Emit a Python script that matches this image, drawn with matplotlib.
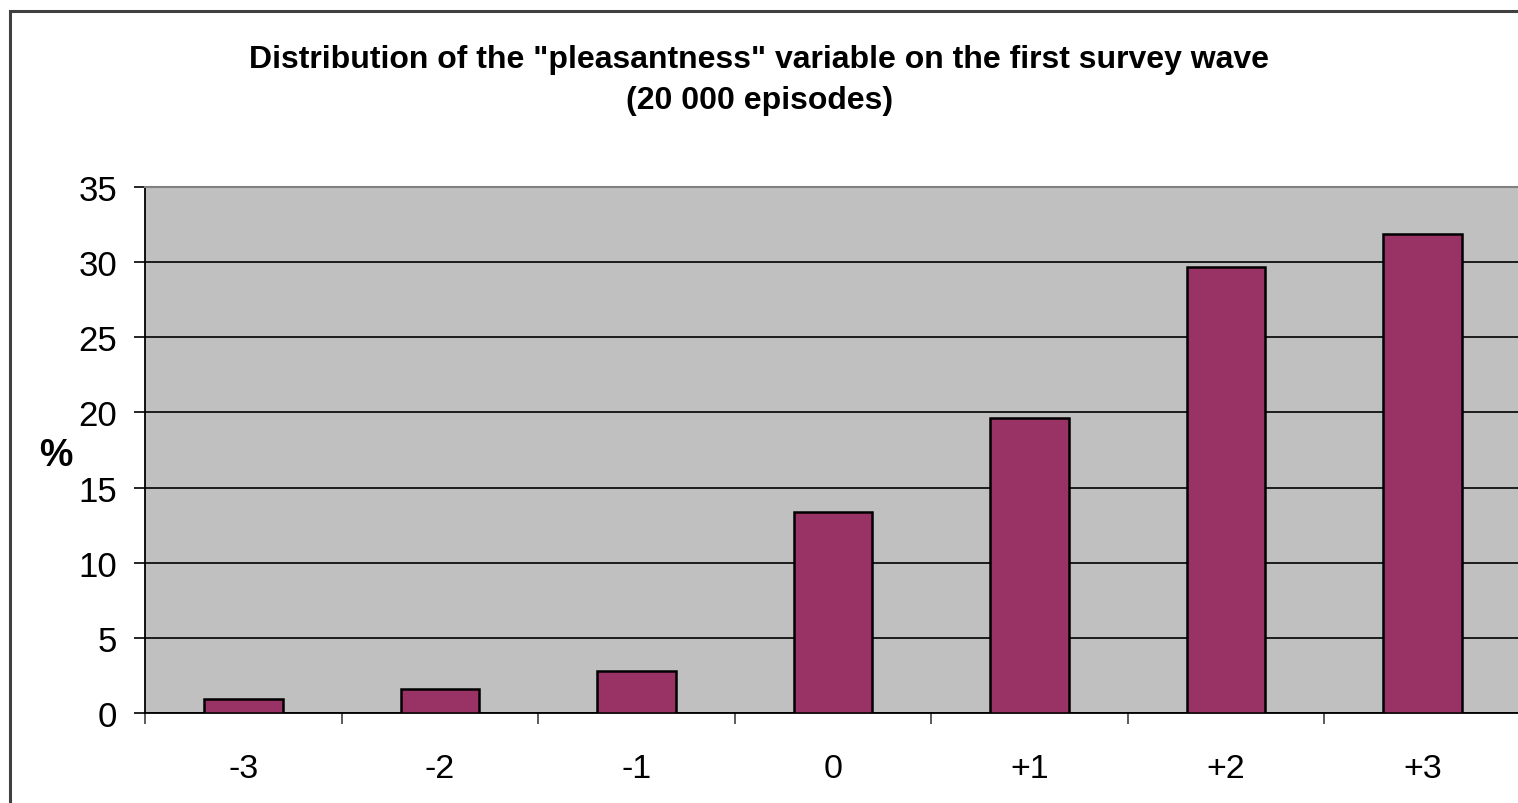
import matplotlib
matplotlib.use("Agg")
import matplotlib.pyplot as plt
from matplotlib.patches import Rectangle
import numpy as np

plt.rcParams['font.family'] = ['Liberation Sans', 'DejaVu Sans']

# data
categories = ["-3", "-2", "-1", "0", "+1", "+2", "+3"]
percent = [0.9, 1.6, 2.8, 13.4, 19.6, 29.7, 31.9]
yticks = [0, 5, 10, 15, 20, 25, 30, 35]

W, H = 1518, 804
fig = plt.figure(figsize=(W / 100, H / 100), dpi=100)
fig.patch.set_facecolor("white")

# chart area frame (runs off the right and bottom edge)
fig.patches.append(Rectangle((10 / W, -0.05), 1.2, 1 - 12 / H + 0.05,
                             transform=fig.transFigure, fill=False,
                             edgecolor="#404040", linewidth=2.2))

ax = fig.add_axes([145 / W, 1 - 714 / H, (1521 - 145) / W, (714 - 188) / H])
ax.set_facecolor("#C0C0C0")

x = np.arange(len(categories))
ax.bar(x, percent, width=0.4, color="#993366", edgecolor="black", linewidth=1.8, zorder=3)

ax.set_xlim(-0.5, len(categories) - 0.5)
ax.set_ylim(0, 35)
ax.set_yticks(yticks)
ax.set_yticklabels([str(v) for v in yticks], fontsize=25)
ax.yaxis.grid(True, color="black", linewidth=1.2, zorder=0)
ax.set_axisbelow(True)

ax.set_xticks(x)
ax.set_xticklabels(categories, fontsize=24.5)
ax.set_xticks(np.arange(-0.5, len(categories)), minor=True)
ax.tick_params(axis="x", which="major", length=0, pad=29)
ax.tick_params(axis="x", which="minor", length=8, width=1.2, color="#404040")
ax.tick_params(axis="y", which="major", length=8, width=1.2, pad=12)

for s in ["left", "bottom"]:
    ax.spines[s].set_color("black")
    ax.spines[s].set_linewidth(1.3)
ax.spines["top"].set_color("#808080")
ax.spines["top"].set_linewidth(1.5)
ax.spines["right"].set_visible(False)

ax.set_ylabel("%", fontsize=27, fontweight="bold", rotation=0, va="center", ha="center")
ax.yaxis.set_label_coords(-0.065, 0.49)

fig.text(0.5 * (247 + 1272) / W, 1 - 60 / H,
         "Distribution of the \"pleasantness\" variable on the first survey wave",
         ha="center", va="center", fontsize=23, fontweight="bold")
fig.text(0.5 * (247 + 1272) / W, 1 - 101 / H, "(20 000 episodes)",
         ha="center", va="center", fontsize=23, fontweight="bold")

fig.savefig("out.png", dpi=100)
